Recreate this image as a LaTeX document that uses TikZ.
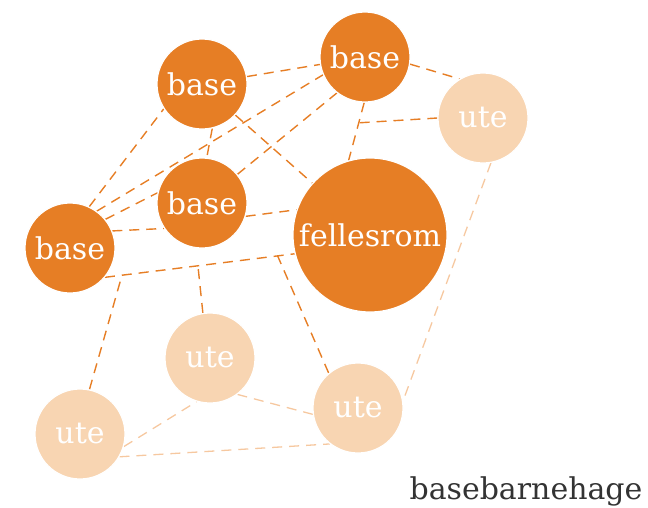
\documentclass[tikz,border=0pt]{standalone}
\usepackage{fontspec}
\setmainfont{DejaVu Serif}
\usetikzlibrary{positioning,backgrounds}
\definecolor{orng}{RGB}{230,126,37}
\definecolor{peach}{RGB}{248,213,178}
\definecolor{peachline}{RGB}{246,200,160}
\begin{document}
\begin{tikzpicture}[x=1pt,y=-1pt,
  room/.style={circle,inner sep=0pt,minimum size=90pt,draw=white,line width=1.2pt,
    text=white,font=\fontsize{30}{30}\selectfont},
  base/.style={room,fill=orng},
  ute/.style={room,fill=peach},
  link/.style={draw=orng,line width=1.4pt,dash pattern=on 10pt off 7pt},
  lightlink/.style={draw=peachline,line width=1.3pt,dash pattern=on 10pt off 7pt}]
  \useasboundingbox (0,0) rectangle (648,507);
  \node[base] (b1) at (202,84) {base};
  \node[base] (b2) at (365,57) {base};
  \node[base] (b3) at (202,203) {base};
  \node[base] (b4) at (70,248) {base};
  \node[base,minimum size=154pt] (fr) at (370,235) {fellesrom};
  \node[ute] (u1) at (483,118) {ute};
  \node[ute] (u2) at (210,358) {ute};
  \node[ute] (u3) at (80,434) {ute};
  \node[ute] (u4) at (358,408) {ute};
  \node[text=black!80,font=\fontsize{30}{30}\selectfont,anchor=base east] (tag) at (646,499) {basebarnehage};
  \begin{pgfonlayer}{background}
    \draw[link] (b1) -- (b2);
    \draw[link] (b4.65) -- (b1.213);
    \draw[link] (b4.54) -- (b2.203);
    \draw[link] (b4.39) -- (b3.167);
    \draw[link] (b4.22) -- (b3.214);
    \draw[link] (b1.283) -- (b3.84);
    \draw[link] (b1.317) -- (fr.138);
    \draw[link] (b3.39) -- (b2.232);
    \draw[link] (b3.343) -- (fr.161);
    \draw[link] (b4.320) -- coordinate[pos=0.09] (j1) coordinate[pos=0.49] (j2)
      coordinate[pos=0.91] (j3) (fr.194);
    \draw[link] (b2.269) -- coordinate[pos=0.35] (j4) (fr.106);
    \draw[link] (b2.351) -- (u1.121);
    \draw[link] (u1.180) -- (j4);
    \draw[link] (u3.78) -- (j1);
    \draw[link] (u2.99) -- (j2);
    \draw[link] (u4.130) -- (j3);
    \draw[lightlink] (u1.280) -- (u4.9);
    \draw[lightlink] (u3.344) -- (u2.253);
    \draw[lightlink] (u2.307) -- (u4.188);
    \draw[lightlink] (u3.330) -- (u4.232);
  \end{pgfonlayer}
\end{tikzpicture}
\end{document}
